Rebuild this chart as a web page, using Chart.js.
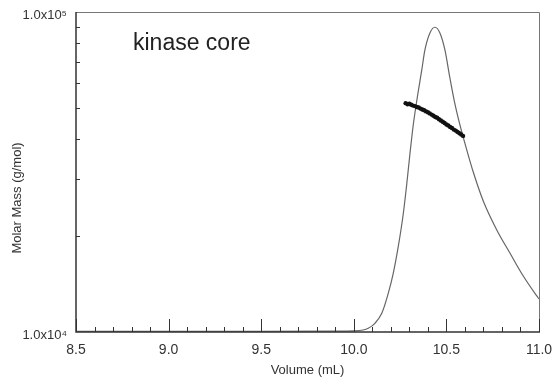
<!DOCTYPE html>
<html>
<head>
<meta charset="utf-8">
<script src="https://cdn.jsdelivr.net/npm/chart.js@4.4.0/dist/chart.umd.min.js"></script>
<style>
  html, body { margin: 0; padding: 0; background: #fff; }
  #wrap { width: 556px; height: 386px; }
</style>
</head>
<body>
<div id="wrap"><canvas id="myChart" width="556" height="386"></canvas></div>
<script>
// trace peak (detector signal drawn on molar mass axis)
const traceVolume = [8.5, 9.0, 9.5, 9.9, 10.0, 10.05, 10.078, 10.114, 10.151, 10.186, 10.213, 10.240,
    10.267, 10.286, 10.303, 10.321, 10.344, 10.367, 10.384, 10.411, 10.438, 10.465, 10.492,
    10.519, 10.546, 10.573, 10.610, 10.645, 10.699, 10.772, 10.843, 10.915, 10.988, 11.0];
const traceMass = [10050, 10050, 10050, 10060, 10080, 10145, 10270, 10645, 11440, 13210, 15260, 18480,
    23380, 29000, 36000, 44360, 54640, 65900, 76100, 86000, 89600, 86000, 76100,
    62200, 51600, 44360, 37060, 31620, 25670, 20840, 17650, 14960, 12960, 12680];

// molar mass points
const massVolume = [10.28, 10.29, 10.30, 10.31, 10.32, 10.33, 10.34, 10.35, 10.36, 10.37, 10.38,
    10.39, 10.40, 10.41, 10.42, 10.43, 10.44, 10.45, 10.46, 10.47, 10.48, 10.49, 10.50, 10.51,
    10.52, 10.53, 10.54, 10.55, 10.56, 10.57, 10.58, 10.59];
const molarMass = [51900, 51500, 51700, 51300, 51000, 50800, 50500, 50300, 49900, 49600, 49300,
    48900, 48600, 48200, 47800, 47400, 47000, 46700, 46200, 45800, 45400, 45000, 44500, 44200,
    43700, 43400, 42900, 42600, 42200, 41800, 41400, 41000];

const xTicks = [8.5, 9.0, 9.5, 10.0, 10.5, 11.0];
const yLabels = { 10000: '1.0x10\u2074', 100000: '1.0x10\u2075' };

const fontFam = '"Liberation Sans", Arial, Helvetica, sans-serif';

// frame, inward ticks and texts
const decorPlugin = {
    id: 'decor',
    afterDraw(chart) {
        const ctx = chart.ctx;
        const a = chart.chartArea;
        const xs = chart.scales.x;
        const ys = chart.scales.y;
        ctx.save();
        // top and right border
        ctx.strokeStyle = '#777';
        ctx.lineWidth = 1;
        ctx.beginPath();
        ctx.moveTo(a.left, a.top + 0.5);
        ctx.lineTo(a.right + 0.5, a.top + 0.5);
        ctx.lineTo(a.right + 0.5, a.bottom);
        ctx.stroke();
        // left and bottom axes
        ctx.strokeStyle = '#333';
        ctx.lineWidth = 1.5;
        ctx.beginPath();
        ctx.moveTo(a.left, a.top);
        ctx.lineTo(a.left, a.bottom);
        ctx.lineTo(a.right + 1, a.bottom);
        ctx.stroke();
        // x ticks
        ctx.lineWidth = 1;
        ctx.beginPath();
        for (let i = 0; i <= 25; i++) {
            const v = 8.5 + i * 0.1;
            const px = Math.round(xs.getPixelForValue(v)) + 0.5;
            const len = (i % 5 === 0) ? 13 : 5;
            ctx.moveTo(px, a.bottom);
            ctx.lineTo(px, a.bottom - len);
        }
        // y minor ticks
        for (let m = 2; m <= 9; m++) {
            const py = Math.round(ys.getPixelForValue(m * 10000)) + 0.5;
            ctx.moveTo(a.left, py);
            ctx.lineTo(a.left + 4, py);
        }
        ctx.stroke();
        // titles
        ctx.fillStyle = '#333';
        ctx.font = '13px ' + fontFam;
        ctx.textAlign = 'center';
        ctx.textBaseline = 'middle';
        ctx.fillText('Volume (mL)', (a.left + a.right) / 2, 370);
        ctx.save();
        ctx.translate(17, 198);
        ctx.rotate(-Math.PI / 2);
        ctx.fillText('Molar Mass (g/mol)', 0, 0);
        ctx.restore();
        // annotation
        ctx.fillStyle = '#222';
        ctx.font = '23px ' + fontFam;
        ctx.textAlign = 'left';
        ctx.fillText('kinase core', 133, 44);
        ctx.restore();
    }
};

const ctx = document.getElementById('myChart').getContext('2d');
const myChart = new Chart(ctx, {
    type: 'scatter',
    data: {
        datasets: [{
            label: 'Molar Mass',
            data: massVolume.map((v, i) => ({ x: v, y: molarMass[i] })),
            backgroundColor: '#111',
            borderColor: '#111',
            pointRadius: 2.2,
            pointBorderWidth: 0,
            showLine: false
        }, {
            label: 'Signal',
            data: traceVolume.map((v, i) => ({ x: v, y: traceMass[i] })),
            showLine: true,
            borderColor: '#666',
            borderWidth: 1.2,
            pointRadius: 0,
            cubicInterpolationMode: 'monotone',
            fill: false
        }]
    },
    options: {
        responsive: false,
        animation: false,
        devicePixelRatio: 1,
        layout: { padding: { top: 12, right: 17, left: 0, bottom: 0 } },
        plugins: {
            legend: { display: false },
            tooltip: { enabled: false }
        },
        scales: {
            x: {
                type: 'linear',
                min: 8.5,
                max: 11.0,
                grid: { display: false },
                border: { display: false },
                afterBuildTicks(scale) {
                    scale.ticks = xTicks.map(v => ({ value: v }));
                },
                ticks: {
                    color: '#333',
                    font: { family: fontFam, size: 14 },
                    padding: 2,
                    maxRotation: 0,
                    autoSkip: false,
                    callback: v => Number(v).toFixed(1)
                },
                afterFit(scale) { scale.height = 54; }
            },
            y: {
                type: 'logarithmic',
                min: 10000,
                max: 100000,
                grid: { display: false },
                border: { display: false },
                ticks: {
                    color: '#333',
                    font: { family: fontFam, size: 13 },
                    padding: 1,
                    labelOffset: 3,
                    autoSkip: false,
                    callback: v => yLabels[v] || null
                },
                afterFit(scale) { scale.width = 76; }
            }
        }
    },
    plugins: [decorPlugin]
});
</script>
</body>
</html>
